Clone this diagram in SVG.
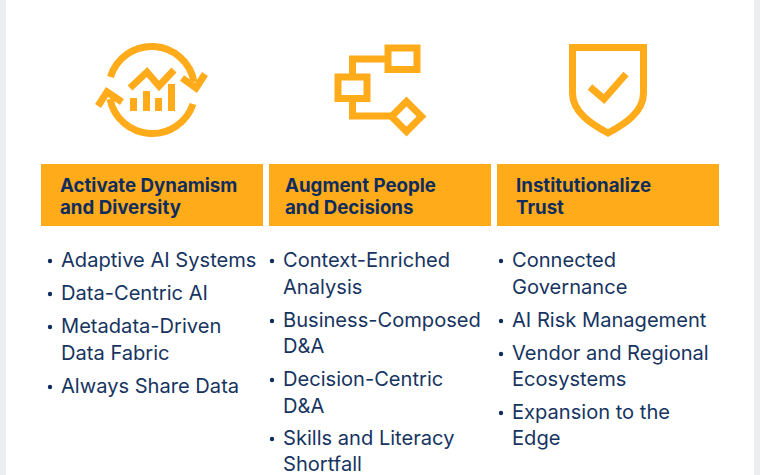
<svg xmlns="http://www.w3.org/2000/svg" width="760" height="475" viewBox="0 0 760 475">
<style>
.bar{fill:#ffab1a}
.ic{fill:none;stroke:#ffab1a;stroke-width:7}
.h{font-family:Inter,"Liberation Sans",sans-serif;font-weight:700;font-size:18.7px;fill:#0f2d5c}
.t{font-family:Inter,"Liberation Sans",sans-serif;font-size:20.1px;fill:#16345f}
.d{fill:#0f2d5c}
</style>
<rect width="760" height="475" fill="#ecedef"/>
<rect x="6" width="748" height="475" fill="#fff"/>
<g id="col1">
<g class="ic">
<path d="M110.500 77A43 43 0 0 1 194 82"/>
<path d="M193 104A43 43 0 0 1 110 99"/>
<path d="M205 74L196 88L182 78"/>
<path d="M98 106L107 92L122 102"/>
<path d="M130 88L147 72L159 86L174 70"/>
</g>
<path class="bar" d="M130 98h7v13h-7zM143 91h7v20h-7zM155 98h7v13h-7zM168 84h7v27h-7z"/>
<rect class="bar" x="41" y="164" width="222" height="62"/>
<text class="h" x="60" y="192">Activate Dynamism</text>
<text class="h" x="60" y="214">and Diversity</text>
<g class="t"><text x="61" y="267">Adaptive AI Systems</text><text x="61" y="300">Data-Centric AI</text><text x="61" y="333">Metadata-Driven</text><text x="61" y="360">Data Fabric</text><text x="61" y="393">Always Share Data</text></g>
<g class="d"><circle cx="50" cy="261" r="2.200"/><circle cx="50" cy="294" r="2.200"/><circle cx="50" cy="327" r="2.200"/><circle cx="50" cy="387" r="2.200"/></g>
</g>
<g id="col2">
<g class="ic">
<rect x="388" y="48" width="29" height="21.500"/>
<rect x="338" y="77" width="29" height="21.500"/>
<path d="M352.500 77V59H388M352.500 99V116H392"/>
<path d="M406.500 101.500L421.500 116.500L406.500 131.500L391.500 116.500Z"/>
</g>
<rect class="bar" x="269" y="164" width="222" height="62"/>
<text class="h" x="285" y="192">Augment People</text>
<text class="h" x="285" y="214">and Decisions</text>
<g class="t"><text x="283" y="267">Context-Enriched</text><text x="283" y="294">Analysis</text><text x="283" y="327">Business-Composed</text><text x="283" y="353">D&amp;A</text><text x="283" y="386">Decision-Centric</text><text x="283" y="413">D&amp;A</text><text x="283" y="445">Skills and Literacy</text><text x="283" y="471">Shortfall</text></g>
<g class="d"><circle cx="272" cy="261" r="2.200"/><circle cx="272" cy="321" r="2.200"/><circle cx="272" cy="380" r="2.200"/><circle cx="272" cy="439" r="2.200"/></g>
</g>
<g id="col3">
<g class="ic">
<path d="M572.500 47.500H643.500V93C643.500 112 625 124 608 133C591 124 572.500 112 572.500 93Z"/>
<path d="M590 87L604 99L626 74"/>
</g>
<rect class="bar" x="497" y="164" width="222" height="62"/>
<text class="h" x="516" y="192">Institutionalize</text>
<text class="h" x="516" y="214">Trust</text>
<g class="t"><text x="512" y="267">Connected</text><text x="512" y="294">Governance</text><text x="512" y="327">AI Risk Management</text><text x="512" y="360">Vendor and Regional</text><text x="512" y="386">Ecosystems</text><text x="512" y="419">Expansion to the</text><text x="512" y="445">Edge</text></g>
<g class="d"><circle cx="501" cy="261" r="2.200"/><circle cx="501" cy="321" r="2.200"/><circle cx="501" cy="354" r="2.200"/><circle cx="501" cy="413" r="2.200"/></g>
</g>
</svg>
